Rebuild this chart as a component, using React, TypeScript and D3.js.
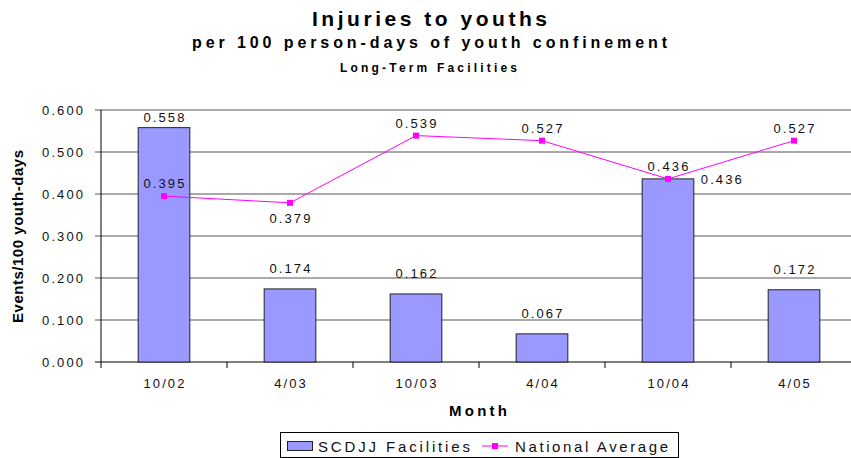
import * as d3 from "d3";

const months = ["10/02", "4/03", "10/03", "4/04", "10/04", "4/05"];
const scdjj = [0.558, 0.174, 0.162, 0.067, 0.436, 0.172];
const national = [0.395, 0.379, 0.539, 0.527, 0.436, 0.527];
const barLabelPos = ["above", "above", "above", "above", "right", "above"];
const nationalLabelPos = ["above", "below", "above", "above", "above", "above"];
const yTicks = [0, 0.1, 0.2, 0.3, 0.4, 0.5, 0.6];

const W = 851;
const H = 458;
const font = "'Liberation Sans', Arial, sans-serif";
const numStyle = { fontSize: 13, letterSpacing: 2.1, fill: "#111" };

export default function App() {
  const left = 101, right = 857, top = 110, bottom = 362;
  const x = d3.scaleBand().domain(months).range([left, right]).paddingInner(0.59).paddingOuter(0.295);
  const xb = d3.scaleBand().domain(months).range([left, right]);
  const y = d3.scaleLinear().domain([0, 0.6]).range([bottom, top]);
  const cx = (m: string) => (xb(m) as number) + xb.bandwidth() / 2;

  const line = d3.line<number>().x((_, i) => cx(months[i])).y((d) => y(d));

  return (
    <div style={{ position: "absolute", left: 0, top: 0 }}>
      <svg width={W} height={H} style={{ display: "block", background: "#fff" }} fontFamily={font}>
        <text x={312} y={26} fontSize={21} fontWeight="bold" textLength={235} lengthAdjust="spacing">Injuries to youths</text>
        <text x={192} y={48} fontSize={16} fontWeight="bold" textLength={475} lengthAdjust="spacing">per 100 person-days of youth confinement</text>
        <text x={340} y={72} fontSize={12} fontWeight="bold" textLength={177} lengthAdjust="spacing">Long-Term Facilities</text>

        {yTicks.map((t) => (
          <g key={t}>
            <line x1={left - 6} x2={right} y1={y(t)} y2={y(t)} stroke={t === 0 ? "#000" : "#555"} strokeWidth={1} />
            <text x={83 + 2.1} y={y(t) + 5} textAnchor="end" {...numStyle}>{t.toFixed(3)}</text>
          </g>
        ))}
        <line x1={left} x2={left} y1={top} y2={bottom} stroke="#000" />
        {months.map((m) => (
          <line key={"t" + m} x1={xb(m) as number} x2={xb(m) as number} y1={bottom} y2={bottom + 6} stroke="#000" />
        ))}

        {months.map((m, i) => {
          const bx = x(m) as number;
          const by = y(scdjj[i]);
          const right = barLabelPos[i] === "right";
          return (
            <g key={"b" + m}>
              <rect x={bx} y={by} width={x.bandwidth()} height={bottom - by} fill="#9999FF" stroke="#222" strokeWidth={1} />
              <text
                x={right ? bx + x.bandwidth() + 7 : cx(m) + 1}
                y={right ? by + 5 : Math.max(by - 16, 122)}
                textAnchor={right ? "start" : "middle"}
                {...numStyle}
              >
                {scdjj[i].toFixed(3)}
              </text>
            </g>
          );
        })}

        <path d={line(national) as string} fill="none" stroke="#FF00FF" strokeWidth={1} />
        {national.map((v, i) => {
          const px = cx(months[i]);
          const py = y(v);
          const pos = nationalLabelPos[i];
          return (
            <g key={"n" + i}>
              <rect x={px - 3} y={py - 3} width={6} height={6} fill="#FF00FF" />
              <text x={px + 1} y={pos === "above" ? py - 8 : py + 20} textAnchor="middle" {...numStyle}>{v.toFixed(3)}</text>
            </g>
          );
        })}

        {months.map((m) => (
          <text key={"l" + m} x={cx(m) + 1} y={388} textAnchor="middle" {...numStyle}>{m}</text>
        ))}
        <text x={449} y={416} fontSize={15} fontWeight="bold" textLength={58} lengthAdjust="spacing">Month</text>
        <text transform={`translate(23,323) rotate(-90)`} fontSize={15} fontWeight="bold" textLength={173} lengthAdjust="spacing">Events/100 youth-days</text>

        <g>
          <rect x={280.5} y={432.5} width={398} height={25} fill="#fff" stroke="#000" />
          <rect x={287.5} y={441.5} width={25} height={9} fill="#9999FF" stroke="#222" />
          <text x={318} y={452} fontSize={15} fill="#111" textLength={152} lengthAdjust="spacing">SCDJJ Facilities</text>
          <line x1={482} x2={508} y1={446} y2={446} stroke="#FF00FF" />
          <rect x={492} y={443} width={6} height={6} fill="#FF00FF" />
          <text x={515} y={452} fontSize={15} fill="#111" textLength={153} lengthAdjust="spacing">National Average</text>
        </g>
      </svg>
    </div>
  );
}
